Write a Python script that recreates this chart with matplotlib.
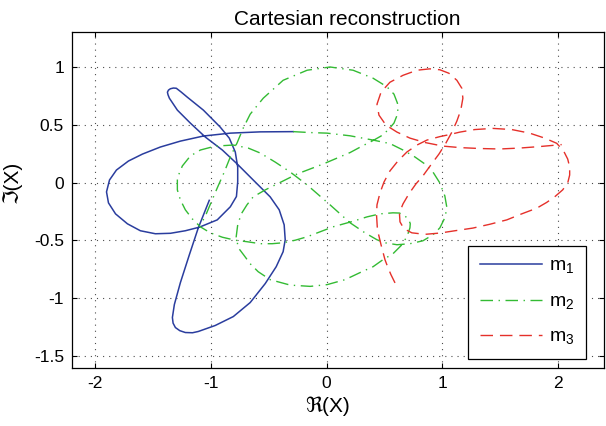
import numpy as np
import matplotlib
matplotlib.use("Agg")
from matplotlib import pyplot as plt
from matplotlib.ticker import FuncFormatter

plt.rcParams['font.family'] = ['Liberation Sans', 'DejaVu Sans']
plt.rcParams['mathtext.fontset'] = 'custom'
plt.rcParams['mathtext.rm'] = 'Liberation Sans'
plt.rcParams['axes.unicode_minus'] = False

# curve m1 (real / imaginary parts)
m1_re = [-1.015, -1.110, -1.187, -1.265, -1.317, -1.334, -1.328, -1.308, -1.270, -1.222,
         -1.160, -1.110, -0.963, -0.807, -0.661, -0.531, -0.436, -0.376, -0.358, -0.367,
         -0.410, -0.488, -0.635, -0.773, -0.902, -1.049, -1.179, -1.291, -1.360, -1.372,
         -1.377, -1.368, -1.351, -1.325, -1.300, -1.260, -1.205, -1.066, -0.920, -0.842,
         -0.790, -0.769, -0.769, -0.780, -0.833, -0.946, -1.100, -1.222, -1.351, -1.481,
         -1.611, -1.723, -1.826, -1.887, -1.904, -1.878, -1.818, -1.714, -1.593, -1.438,
         -1.265, -1.066, -0.833, -0.574, -0.289]
m1_im = [-0.153, -0.391, -0.623, -0.865, -1.054, -1.166, -1.215, -1.253, -1.280, -1.296,
         -1.298, -1.287, -1.235, -1.158, -1.037, -0.873, -0.727, -0.597, -0.494, -0.365,
         -0.235, -0.123, 0.023, 0.161, 0.282, 0.394, 0.515, 0.627, 0.730, 0.760,
         0.782, 0.800, 0.812, 0.818, 0.816, 0.785, 0.739, 0.627, 0.480, 0.385,
         0.265, 0.135, 0.006, -0.120, -0.209, -0.322, -0.385, -0.416, -0.438, -0.442,
         -0.416, -0.356, -0.270, -0.175, -0.080, 0.023, 0.109, 0.187, 0.247, 0.308,
         0.359, 0.403, 0.428, 0.439, 0.441]

# curve m2
m2_re = [-0.289, -0.142, 0.004, 0.203, 0.402, 0.548, 0.661, 0.764, 0.851, 0.920,
         0.980, 1.023, 1.041, 1.023, 0.980, 0.920, 0.833, 0.721, 0.609,
         0.505, 0.436, 0.332, 0.203, 0.030, -0.168, -0.315, -0.445, -0.574, -0.678,
         -0.807, -0.963, -1.092, -1.179, -1.248, -1.291, -1.291, -1.265, -1.222, -1.162,
         -1.092, -1.006, -0.902, -0.790, -0.687,
         -0.574, -0.471, -0.376, -0.272, -0.168, -0.056, 0.056, 0.229, 0.350, 0.462,
         0.574, 0.630, 0.675, 0.712, 0.724, 0.721, 0.695, 0.643, 0.574,
         0.488, 0.402, 0.289, 0.160, 0.004, -0.142, -0.315, -0.488, -0.592, -0.661,
         -0.712, -0.764, -0.782, -0.769, -0.738, -0.689, -0.635, -0.531, -0.427, -0.255,
         -0.030, 0.203, 0.307, 0.402, 0.471, 0.531, 0.583, 0.617, 0.613, 0.583,
         0.522, 0.402, 0.229, 0.030, -0.168, -0.376, -0.548, -0.661, -0.721, -0.775,
         -0.833, -0.885, -0.946, -0.997, -1.041, -1.084]
m2_im = [0.441, 0.433, 0.428, 0.405, 0.368, 0.338, 0.282, 0.222, 0.161, 0.092,
         -0.003, -0.115, -0.218, -0.304, -0.391, -0.451, -0.503, -0.528, -0.537,
         -0.520, -0.494, -0.434, -0.347, -0.192, -0.020, 0.092, 0.178, 0.256, 0.299,
         0.325, 0.316, 0.282, 0.230, 0.144, 0.041, -0.063, -0.149, -0.235, -0.313,
         -0.382, -0.434, -0.472, -0.498, -0.511,
         -0.528, -0.528, -0.520, -0.498, -0.468, -0.425, -0.382, -0.334, -0.296, -0.270,
         -0.261, -0.263, -0.285, -0.322, -0.355, -0.391, -0.468, -0.546, -0.615,
         -0.666, -0.727, -0.778, -0.839, -0.882, -0.897, -0.886, -0.839, -0.770, -0.701,
         -0.632, -0.563, -0.468, -0.365, -0.270, -0.192, -0.123, -0.063, -0.011, 0.075,
         0.161, 0.260, 0.316, 0.364, 0.403, 0.454, 0.515, 0.601, 0.687, 0.765,
         0.829, 0.903, 0.972, 1.000, 0.972, 0.885, 0.730, 0.592, 0.472, 0.342,
         0.222, 0.092, -0.046, -0.166, -0.270, -0.356]

# curve m3
m3_re = [0.592, 0.557, 0.531, 0.505, 0.471, 0.440, 0.432, 0.436, 0.462, 0.497,
         0.548, 0.617, 0.695, 0.782, 0.868, 0.980, 1.066, 1.153, 1.282, 1.438,
         1.602, 1.757, 1.887, 1.991, 2.051, 2.086, 2.103, 2.103, 2.086, 2.042,
         1.973, 1.904, 1.818, 1.688, 1.559, 1.412, 1.265, 1.110, 0.980, 0.851,
         0.738, 0.669, 0.635, 0.630, 0.661, 0.712, 0.773, 0.833, 0.902, 0.972,
         1.032, 1.084, 1.127, 1.161, 1.179, 1.170, 1.127, 1.058, 0.980, 0.894,
         0.782, 0.661, 0.548, 0.471, 0.436, 0.453, 0.514, 0.609, 0.721, 0.851,
         1.006, 1.153, 1.326, 1.498, 1.671, 1.844, 2.034]
m3_im = [-0.867, -0.796, -0.735, -0.666, -0.537, -0.408, -0.278, -0.192, -0.089, 0.006,
         0.101, 0.187, 0.265, 0.325, 0.368, 0.398, 0.416, 0.437, 0.459, 0.469,
         0.459, 0.428, 0.385, 0.340, 0.273, 0.204, 0.135, 0.066, -0.003, -0.063,
         -0.123, -0.171, -0.221, -0.270, -0.322, -0.360, -0.393, -0.416, -0.436, -0.447,
         -0.434, -0.399, -0.339, -0.261, -0.184, -0.097, -0.011, 0.058, 0.153, 0.247,
         0.342, 0.437, 0.532, 0.627, 0.730, 0.816, 0.885, 0.946, 0.976, 0.984,
         0.972, 0.928, 0.868, 0.782, 0.678, 0.584, 0.497, 0.437, 0.385, 0.347,
         0.316, 0.303, 0.295, 0.291, 0.299, 0.312, 0.329]

labels = ['m$_1$', 'm$_2$', 'm$_3$']

fig = plt.figure(figsize=(6.06, 4.26), dpi=100)
ax = fig.add_axes([0.1193, 0.1369, 0.8774, 0.7873])

ax.plot(m1_re, m1_im, color='#2a3d9e', lw=1.1, ls='-', label=labels[0])
ax.plot(m2_re, m2_im, color='#33bb33', lw=1.0, ls=(0, (9, 4, 1, 4)), label=labels[1])
ax.plot(m3_re, m3_im, color='#e5302a', lw=1.0, ls=(0, (9, 5)), label=labels[2])

ax.set_xlim(-2.2, 2.4)
ax.set_ylim(-1.6, 1.3)
ax.set_xticks([-2, -1, 0, 1, 2])
ax.set_yticks([-1.5, -1, -0.5, 0, 0.5, 1])
fmt = FuncFormatter(lambda v, p: '%g' % v)
ax.xaxis.set_major_formatter(fmt)
ax.yaxis.set_major_formatter(fmt)
ax.tick_params(direction='in', length=3.5, width=0.8, labelsize=12.5,
               top=True, right=True, pad=6)
ax.grid(True, color='k', lw=0.8, ls=(0, (1, 4.5)), alpha=0.7)
for s in ax.spines.values():
    s.set_linewidth(0.9)

ax.set_title('Cartesian reconstruction', fontsize=15, pad=5, x=0.517)
ax.set_xlabel('\u211c(X)', fontsize=15, labelpad=6)
ax.xaxis.set_label_coords(0.48, -0.085)
ax.set_ylabel('\u2111(X)', fontsize=15, labelpad=6)
ax.yaxis.set_label_coords(-0.095, 0.554)

leg = ax.legend(loc='lower right', bbox_to_anchor=(0.966, 0.026), borderaxespad=0,
                fontsize=14, handlelength=3.2, handletextpad=0.35, fancybox=False,
                framealpha=1, edgecolor='k', labelspacing=0.85, borderpad=0.6)
leg.get_frame().set_linewidth(0.9)

fig.savefig('out.png', dpi=100)
